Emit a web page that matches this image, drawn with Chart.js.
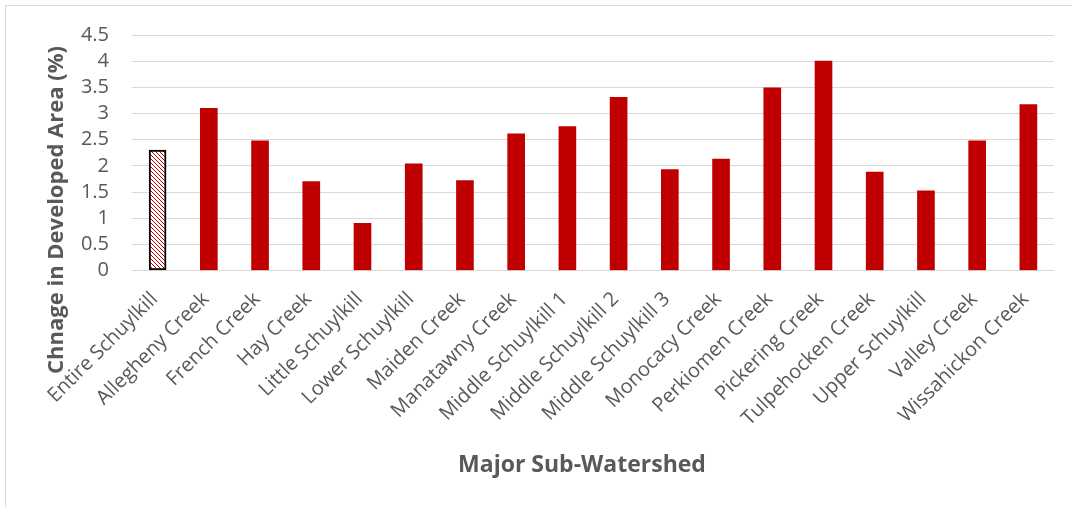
<!DOCTYPE html>
<html>
<head>
<meta charset="utf-8">
<script src="https://cdn.jsdelivr.net/npm/chart.js@4"></script>
<style>
  html, body { margin: 0; padding: 0; background: #fff; overflow: hidden; }
  canvas { display: block; }
</style>
</head>
<body>
<canvas id="chart" width="1072" height="507"></canvas>
<script>
const subWatersheds = [
  'Entire Schuylkill', 'Allegheny Creek', 'French Creek', 'Hay Creek',
  'Little Schuylkill', 'Lower Schuylkill', 'Maiden Creek', 'Manatawny Creek',
  'Middle Schuylkill 1', 'Middle Schuylkill 2', 'Middle Schuylkill 3',
  'Monocacy Creek', 'Perkiomen Creek', 'Pickering Creek', 'Tulpehocken Creek',
  'Upper Schuylkill', 'Valley Creek', 'Wissahickon Creek'
];
const developedChange = [
  2.3, 3.1, 2.48, 1.7, 0.9, 2.04, 1.72, 2.61, 2.75, 3.31, 1.93,
  2.13, 3.49, 4.0, 1.88, 1.52, 2.48, 3.17
];
const yTicks = [0, 0.5, 1, 1.5, 2, 2.5, 3, 3.5, 4, 4.5];

const RED = '#C00000';
const GREY_TEXT = '#595959';
const FONT = "'Open Sans', sans-serif";

// dotted diagonal hatch for the whole-basin bar
function makeHatch() {
  const c = document.createElement('canvas');
  c.width = 4;
  c.height = 4;
  const g = c.getContext('2d');
  g.fillStyle = '#fff';
  g.fillRect(0, 0, 4, 4);
  g.fillStyle = RED;
  for (let i = 0; i < 4; i++) g.fillRect(i, i, 1, 1);
  return g.createPattern(c, 'repeat');
}
const hatch = makeHatch();

// light frame + axis titles placed where Excel put them
const frame = {
  id: 'frame',
  beforeDraw(chart) {
    const ctx = chart.ctx;
    ctx.save();
    ctx.strokeStyle = '#d9d9d9';
    ctx.lineWidth = 1;
    ctx.strokeRect(5.5, 5.5, 1200, 600);
    ctx.restore();
  },
  afterDraw(chart) {
    const ctx = chart.ctx;
    ctx.save();
    ctx.fillStyle = GREY_TEXT;
    ctx.textAlign = 'center';
    ctx.textBaseline = 'middle';
    ctx.font = "bold 23px " + FONT;
    ctx.fillText('Major Sub-Watershed', 582, 465);
    ctx.font = "bold 22px " + FONT;
    ctx.translate(57, 210);
    ctx.rotate(-Math.PI / 2);
    ctx.fillText('Chnage in Developed Area (%)', 0, 0);
    ctx.restore();
  }
};

new Chart(document.getElementById('chart'), {
  type: 'bar',
  data: {
    labels: subWatersheds,
    datasets: [{
      data: developedChange,
      backgroundColor: developedChange.map((v, i) => i === 0 ? hatch : RED),
      borderColor: developedChange.map((v, i) => i === 0 ? '#000' : RED),
      borderWidth: developedChange.map((v, i) => i === 0 ? 2 : 0),
      borderSkipped: developedChange.map((v, i) => i === 0 ? false : 'start'),
      barThickness: 17,
    }],
  },
  options: {
    responsive: false,
    animation: false,
    layout: { padding: { left: 0, top: 33, right: 18, bottom: 0 } },
    plugins: {
      legend: { display: false },
      tooltip: { enabled: false },
    },
    scales: {
      x: {
        grid: { display: false, drawTicks: false },
        border: { display: false },
        ticks: {
          color: GREY_TEXT,
          font: { family: FONT, size: 20 },
          minRotation: 45,
          maxRotation: 45,
          padding: 17,
          labelOffset: -3,
          autoSkip: false,
        },
        afterFit(scale) { scale.height = 236.5; },
      },
      y: {
        min: 0,
        max: 4.5,
        afterBuildTicks(scale) { scale.ticks = yTicks.map(v => ({ value: v })); },
        grid: { color: '#d9d9d9', lineWidth: 1, drawTicks: false },
        border: { display: false },
        ticks: {
          color: GREY_TEXT,
          font: { family: FONT, size: 20 },
          padding: 23,
          autoSkip: false,
          callback: v => String(v),
        },
        afterFit(scale) { scale.width = 132; },
      },
    },
  },
  plugins: [frame],
});
</script>
</body>
</html>
